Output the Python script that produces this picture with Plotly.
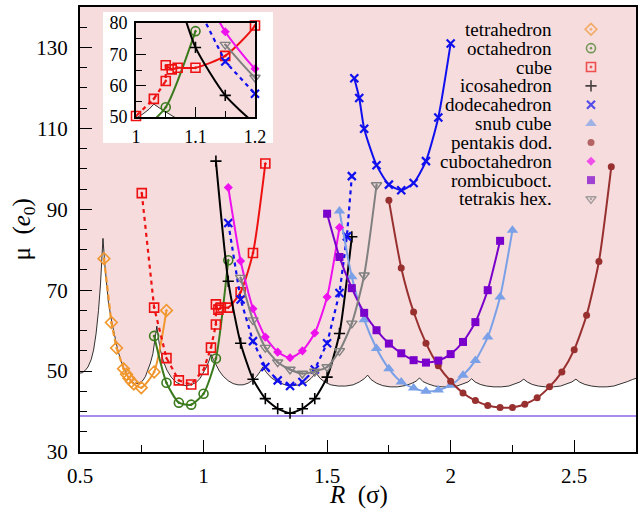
import plotly.graph_objects as go

# ---------------- axis ranges ----------------
X_RANGE = [0.5, 2.75]
Y_RANGE = [30, 140]
INSET_X = [1.0, 1.2]
INSET_Y = [50, 80]

# ---------------- threshold (scalloped) curve ----------------
thr_R = [0.50, 0.51, 0.52, 0.532, 0.545, 0.555, 0.565, 0.575, 0.583, 0.589, 0.593,
         0.600, 0.606, 0.615, 0.627, 0.640, 0.653, 0.670, 0.687, 0.705, 0.721, 0.738, 0.755, 0.765, 0.775, 0.785, 0.795, 0.803, 0.811,
         0.818, 0.826, 0.838, 0.852, 0.870, 0.890, 0.910, 0.930, 0.950, 0.970, 0.985, 1.000, 1.012, 1.022, 1.030,
         1.040, 1.052, 1.064, 1.080, 1.100, 1.120, 1.140, 1.160, 1.180, 1.200, 1.215, 1.228, 1.240,
         1.255, 1.275, 1.300, 1.330, 1.360, 1.390, 1.415, 1.435, 1.455,
         1.470, 1.490, 1.515, 1.545, 1.575, 1.605, 1.630, 1.650, 1.664,
         1.678, 1.700, 1.725, 1.755, 1.785, 1.815, 1.840, 1.860, 1.874,
         1.888, 1.910, 1.935, 1.965, 1.995, 2.025, 2.050, 2.070, 2.085,
         2.099, 2.120, 2.145, 2.175, 2.205, 2.235, 2.260, 2.280, 2.296,
         2.310, 2.330, 2.355, 2.385, 2.415, 2.445, 2.470, 2.490, 2.507,
         2.521, 2.543, 2.570, 2.600, 2.630, 2.660, 2.690, 2.715, 2.735, 2.750]
thr_mu = [49.5, 49.6, 50.1, 51.0, 52.8, 55.2, 59.2, 65.0, 71.5, 77.5, 82.8,
          76.5, 72.4, 67.0, 62.6, 58.5, 55.1, 51.8, 49.4, 47.6, 46.9, 47.0, 47.7, 48.7, 50.2, 52.0, 54.3, 57.2, 61.1,
          57.8, 55.0, 52.3, 50.2, 48.4, 47.2, 46.6, 46.4, 46.6, 47.2, 48.1, 49.6, 51.0, 52.5, 54.1,
          52.8, 51.3, 50.0, 48.7, 47.6, 46.9, 46.6, 46.6, 47.0, 47.8, 48.7, 49.8, 51.0,
          49.6, 48.3, 47.3, 46.6, 46.4, 46.6, 47.2, 48.2, 49.6,
          48.3, 47.3, 46.6, 46.3, 46.3, 46.6, 47.3, 48.1, 49.0,
          47.9, 47.0, 46.4, 46.1, 46.1, 46.4, 46.9, 47.5, 48.3,
          47.4, 46.8, 46.3, 46.1, 46.1, 46.3, 46.8, 47.3, 48.1,
          47.3, 46.7, 46.3, 46.1, 46.1, 46.3, 46.8, 47.3, 48.0,
          47.3, 46.7, 46.3, 46.1, 46.1, 46.3, 46.8, 47.3, 48.0,
          47.3, 46.7, 46.3, 46.1, 46.1, 46.3, 46.8, 47.4, 47.9, 48.2]
mu_ref = 38.9

# ---------------- series ----------------
tetra_R = [0.597, 0.627, 0.648, 0.676, 0.688, 0.698, 0.708, 0.718, 0.748, 0.80, 0.85]
tetra_mu = [77.8, 62.0, 55.7, 50.6, 49.2, 48.2, 47.4, 46.8, 45.9, 49.8, 65.0]

octa_R = [0.80, 0.85, 0.90, 0.95, 1.00, 1.05, 1.10]
octa_mu = [58.7, 47.1, 42.2, 41.7, 44.4, 53.1, 77.4]

cube_R = [0.75, 0.80, 0.85, 0.90, 0.95, 1.00, 1.03, 1.05, 1.05, 1.06, 1.07, 1.10, 1.15, 1.20, 1.25]
cube_mu = [94.0, 65.7, 53.2, 47.7, 46.7, 50.3, 55.8, 61.5, 66.5, 65.2, 65.7, 65.7, 69.5, 79.2, 101.3]

icosa_R = [1.05, 1.10, 1.15, 1.20, 1.25, 1.30, 1.35, 1.40, 1.45, 1.50, 1.55, 1.60]
icosa_mu = [101.9, 72.2, 56.9, 48.0, 43.2, 40.7, 39.6, 40.7, 43.2, 48.5, 59.3, 83.2]

dodeca1_R = [1.10, 1.15, 1.20, 1.25, 1.30, 1.35, 1.40, 1.45, 1.50, 1.55, 1.58, 1.60]
dodeca1_mu = [86.6, 67.7, 57.4, 51.0, 47.7, 46.3, 47.3, 50.4, 56.9, 69.3, 83.3, 98.2]
dodeca2_R = [1.61, 1.63, 1.65, 1.70, 1.75, 1.80, 1.85, 1.90, 1.95, 2.00]
dodeca2_mu = [122.4, 117.5, 109.9, 100.9, 96.1, 94.7, 96.5, 101.9, 112.7, 131.0]

snub_R = [1.55, 1.60, 1.65, 1.70, 1.75, 1.80, 1.85, 1.90, 1.95, 2.00, 2.05, 2.10, 2.15, 2.20, 2.25]
snub_mu = [89.6, 73.3, 62.7, 55.6, 50.6, 47.3, 45.8, 45.0, 45.3, 46.5, 49.0, 52.6, 58.4, 68.3, 84.8]

penta_R = [1.75, 1.80, 1.85, 1.90, 1.95, 2.00, 2.05, 2.10, 2.15, 2.20, 2.25, 2.30, 2.35, 2.40, 2.45, 2.50, 2.55, 2.60, 2.65]
penta_mu = [92.2, 75.5, 64.6, 56.9, 51.3, 47.5, 44.6, 42.7, 41.5, 41.0, 41.0, 41.8, 43.4, 46.1, 49.8, 55.3, 63.8, 77.1, 100.5]

cubo_R = [1.10, 1.15, 1.20, 1.25, 1.30, 1.35, 1.40, 1.45, 1.50, 1.55]
cubo_mu = [95.4, 77.2, 65.4, 58.4, 54.7, 53.3, 55.0, 59.4, 68.3, 85.5]

rombi_R = [1.50, 1.55, 1.60, 1.65, 1.70, 1.75, 1.80, 1.85, 1.90, 1.95, 2.00, 2.05, 2.10, 2.15, 2.20]
rombi_mu = [88.9, 78.2, 70.5, 64.4, 60.1, 56.8, 54.4, 52.7, 52.1, 52.6, 54.2, 57.2, 62.1, 70.0, 82.2]

tetrak_R = [1.15, 1.20, 1.25, 1.30, 1.35, 1.40, 1.45, 1.50, 1.55, 1.60, 1.65, 1.70]
tetrak_mu = [73.1, 62.6, 55.8, 52.2, 50.4, 49.4, 49.9, 51.0, 55.0, 61.8, 73.7, 96.0]

legend_names = ["tetrahedron", "octahedron", "cube", "icosahedron", "dodecahedron",
                "snub cube", "pentakis dod.", "cuboctahedron", "rombicuboct.", "tetrakis hex."]

# branches: (R, mu, number of leading points joined by a dashed line)
series = [
    dict(branches=[(tetra_R, tetra_mu, 5)], color="#f0962d", symbol="diamond-open-dot", size=9, mlw=1.6, dash="6px,3px"),
    dict(branches=[(octa_R, octa_mu, 0)], color="#3c7a1e", symbol="circle-open-dot", size=9, mlw=1.6, dash=None),
    dict(branches=[(cube_R, cube_mu, 9)], color="#ee1111", symbol="square-open-dot", size=9, mlw=1.6, dash="4px,4px"),
    dict(branches=[(icosa_R, icosa_mu, 0)], color="#000000", symbol="cross-thin", size=8, mlw=1.6, dash=None),
    dict(branches=[(dodeca1_R, dodeca1_mu, len(dodeca1_R)), (dodeca2_R, dodeca2_mu, 0)], color="#1010ee", symbol="x-thin", size=8, mlw=2.2, dash="4px,4px"),
    dict(branches=[(snub_R, snub_mu, 0)], color="#7aa0e8", symbol="triangle-up", size=10, mlw=0, dash=None),
    dict(branches=[(penta_R, penta_mu, 0)], color="#983030", symbol="circle", size=7, mlw=0, dash=None),
    dict(branches=[(cubo_R, cubo_mu, 0)], color="#ee11ee", symbol="diamond", size=7, mlw=0, dash=None),
    dict(branches=[(rombi_R, rombi_mu, 0)], color="#7a00cc", symbol="square", size=8, mlw=0, dash=None),
    dict(branches=[(tetrak_R, tetrak_mu, 0)], color="#808080", symbol="triangle-down-open-dot", size=9, mlw=1.4, dash=None),
]

PINK = "#f6dcdd"
FONT = "Liberation Serif"

fig = go.Figure()


def add_curves(xa, ya, inset=False):
    # white region below threshold curve
    fig.add_trace(go.Scatter(x=thr_R, y=thr_mu, mode="lines", fill="tozeroy",
                             fillcolor="white", line=dict(color="black", width=0.8),
                             xaxis=xa, yaxis=ya, showlegend=False, hoverinfo="skip"))
    if not inset:
        fig.add_trace(go.Scatter(x=X_RANGE, y=[mu_ref, mu_ref], mode="lines",
                                 line=dict(color="#a98bf0", width=2.2),
                                 xaxis=xa, yaxis=ya, showlegend=False, hoverinfo="skip"))
    for s in series:
        for (R, mu, nd) in s["branches"]:
            if nd > 1:
                fig.add_trace(go.Scatter(x=R[:nd], y=mu[:nd], mode="lines",
                                         line=dict(color=s["color"], width=2.2, dash=s["dash"]),
                                         xaxis=xa, yaxis=ya, showlegend=False, hoverinfo="skip"))
            start = max(nd - 1, 0)
            if len(R) - start > 1:
                fig.add_trace(go.Scatter(x=R[start:], y=mu[start:], mode="lines",
                                         line=dict(color=s["color"], width=2.0, shape="spline", smoothing=0.6),
                                         xaxis=xa, yaxis=ya, showlegend=False, hoverinfo="skip"))
            if inset:
                pts = [(r, m) for r, m in zip(R, mu)
                       if INSET_X[0] - 0.003 <= r <= INSET_X[1] + 0.003 and INSET_Y[0] - 0.6 <= m <= INSET_Y[1] + 0.6]
                mx = [p[0] for p in pts]
                my = [p[1] for p in pts]
            else:
                mx, my = R, mu
            fig.add_trace(go.Scatter(x=mx, y=my, mode="markers", cliponaxis=not inset,
                                     marker=dict(symbol=s["symbol"], size=s["size"], color=s["color"],
                                                 line=dict(color=s["color"], width=s["mlw"])),
                                     xaxis=xa, yaxis=ya, showlegend=False, hoverinfo="skip"))


add_curves("x", "y")
add_curves("x2", "y2", inset=True)

# ---------------- layout geometry ----------------
W, H = 644, 512
ML, MR, MT, MB = 80, 8, 7, 60
pw, ph = W - ML - MR, H - MT - MB


def px2paper_x(px):
    return (px - ML) / pw


def px2paper_y(py):
    return (H - MB - py) / ph


inset_dom_x = [px2paper_x(136), px2paper_x(255)]
inset_dom_y = [px2paper_y(117), px2paper_y(23)]

# custom legend: text right-aligned, symbol on the right
leg_text_x = px2paper_x(554)
leg_sym_x = px2paper_x(591)
leg_rows = [px2paper_y(29.3 + 18.85 * i) for i in range(len(legend_names))]
fig.add_trace(go.Scatter(
    x=[leg_sym_x] * len(series), y=leg_rows, mode="markers", xaxis="x3", yaxis="y3",
    marker=dict(symbol=[s["symbol"] for s in series], size=[s["size"] for s in series],
                color=[s["color"] for s in series],
                line=dict(color=[s["color"] for s in series], width=[s["mlw"] for s in series])),
    showlegend=False, hoverinfo="skip"))
annotations = []
for name, yy in zip(legend_names, leg_rows):
    annotations.append(dict(text=name, x=leg_text_x, y=yy, xref="paper", yref="paper",
                            xanchor="right", yanchor="middle", showarrow=False,
                            font=dict(family=FONT, size=19, color="black")))
annotations.append(dict(text="<i>R</i>  (σ)", x=0.5, y=px2paper_y(495), xref="paper", yref="paper",
                        xanchor="center", yanchor="middle", showarrow=False,
                        font=dict(family=FONT, size=25, color="black")))
annotations.append(dict(text="μ  (<i>e</i><sub>0</sub>)", x=px2paper_x(23), y=0.5, xref="paper", yref="paper",
                        xanchor="center", yanchor="middle", showarrow=False, textangle=-90,
                        font=dict(family=FONT, size=25, color="black")))

shapes = [
    dict(type="rect", xref="paper", yref="paper", x0=px2paper_x(103), x1=px2paper_x(273),
         y0=px2paper_y(143), y1=px2paper_y(12), fillcolor="white", line=dict(width=0), layer="below"),
    dict(type="rect", xref="paper", yref="paper", x0=inset_dom_x[0], x1=inset_dom_x[1],
         y0=inset_dom_y[0], y1=inset_dom_y[1], fillcolor=PINK, line=dict(width=0), layer="below"),
]

axis_common = dict(showgrid=False, zeroline=False, showline=True, linecolor="black",
                   mirror=True, ticks="inside", tickcolor="black", automargin=False)

fig.update_layout(
    width=W, height=H, margin=dict(l=ML, r=MR, t=MT, b=MB, autoexpand=False),
    paper_bgcolor="white", plot_bgcolor=PINK,
    font=dict(family=FONT, color="black"),
    showlegend=False,
    xaxis=dict(range=X_RANGE, domain=[0, 1], anchor="y", tick0=0.5, dtick=0.5,
               ticklen=12, tickwidth=1.2, linewidth=2,
               minor=dict(dtick=0.25, tick0=0.5, ticklen=7, ticks="inside", tickcolor="black", tickwidth=1.2),
               tickfont=dict(family=FONT, size=21), ticklabelstandoff=4, **axis_common),
    yaxis=dict(range=Y_RANGE, domain=[0, 1], anchor="x", tick0=30, dtick=20,
               ticklen=12, tickwidth=1.2, linewidth=2,
               minor=dict(dtick=5, tick0=30, ticklen=7, ticks="inside", tickcolor="black", tickwidth=1.2),
               tickfont=dict(family=FONT, size=21), ticklabelstandoff=6, **axis_common),
    xaxis2=dict(range=INSET_X, domain=inset_dom_x, anchor="y2", tick0=1.0, dtick=0.1,
                ticklen=10, tickwidth=1.1, linewidth=1.6,
                minor=dict(dtick=0.05, tick0=1.0, ticklen=6, ticks="inside", tickcolor="black", tickwidth=1.1),
                tickfont=dict(family=FONT, size=18), ticklabelstandoff=3, **axis_common),
    yaxis2=dict(range=INSET_Y, domain=inset_dom_y, anchor="x2", tick0=50, dtick=10,
                ticklen=10, tickwidth=1.1, linewidth=1.6,
                minor=dict(dtick=5, tick0=50, ticklen=6, ticks="inside", tickcolor="black", tickwidth=1.1),
                tickfont=dict(family=FONT, size=18), ticklabelstandoff=3, **axis_common),
    xaxis3=dict(range=[0, 1], overlaying="x", visible=False, anchor="y3", automargin=False),
    yaxis3=dict(range=[0, 1], overlaying="y", visible=False, anchor="x3", automargin=False),
    annotations=annotations,
    shapes=shapes,
)

fig.write_html("out.html")
